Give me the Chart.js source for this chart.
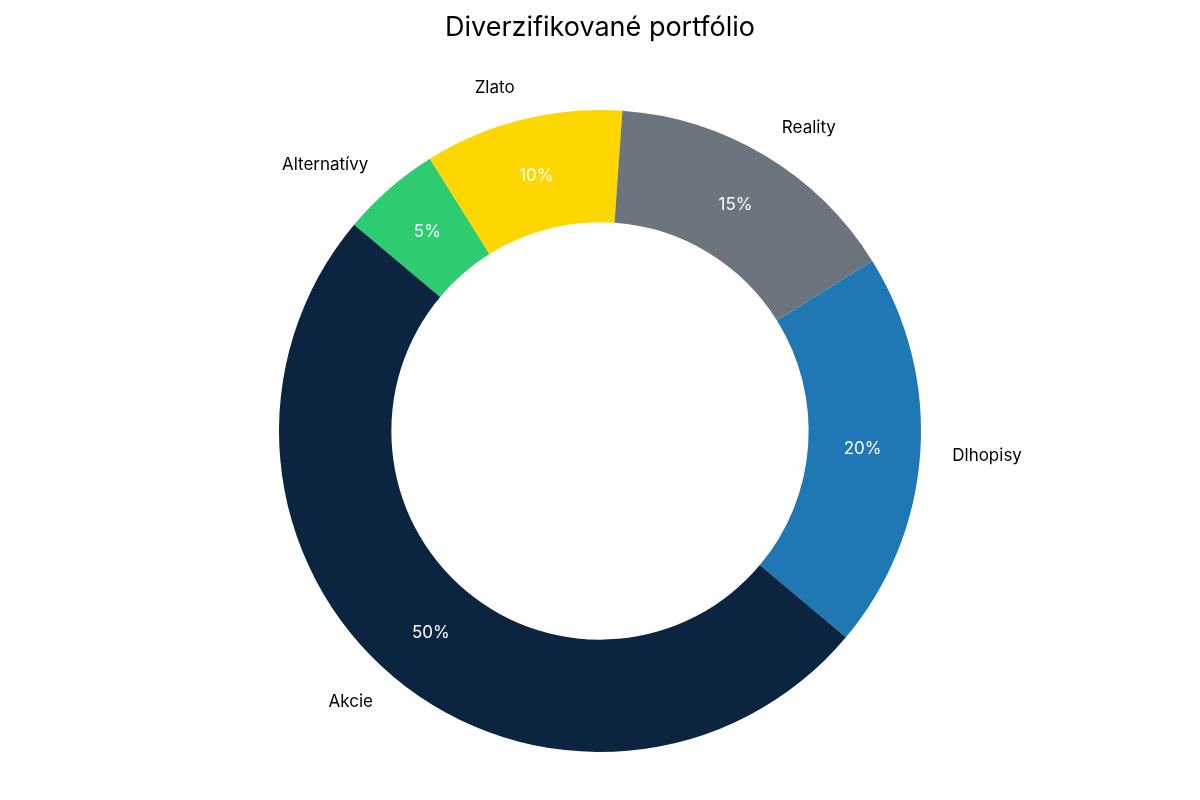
<!DOCTYPE html>
<html>
<head>
<meta charset="utf-8">
<script src="https://cdn.jsdelivr.net/npm/chart.js@4/dist/chart.umd.min.js"></script>
<style>
  html, body { margin: 0; padding: 0; background: #fff; }
  #wrap { width: 1200px; height: 800px; }
</style>
</head>
<body>
<div id="wrap"><canvas id="portfolioChart"></canvas></div>
<script>
// slices in drawing order (clockwise from the upper left)
const categories = ['Alternatívy', 'Zlato', 'Reality', 'Dlhopisy', 'Akcie'];
const shares = [5, 10, 15, 20, 50];
const colors = ['#2ecc71', '#ffd700', '#6c757d', '#1f77b4', '#0b2540'];
const chartTitle = 'Diverzifikované portfólio';

const FONT = 'Inter, "Open Sans", sans-serif';

// draws category names outside and percentages inside each slice
const sliceLabels = {
  id: 'sliceLabels',
  afterDraw(chart) {
    const ctx = chart.ctx;
    const meta = chart.getDatasetMeta(0);
    const total = shares.reduce((a, b) => a + b, 0);
    ctx.save();
    meta.data.forEach((arc, i) => {
      const p = arc.getProps(['x', 'y', 'startAngle', 'endAngle', 'outerRadius'], true);
      const mid = (p.startAngle + p.endAngle) / 2;
      const cos = Math.cos(mid), sin = Math.sin(mid);

      // percentage
      const rp = p.outerRadius * 0.82;
      ctx.font = '17px ' + FONT;
      ctx.fillStyle = '#ffffff';
      ctx.textAlign = 'center';
      ctx.textBaseline = 'middle';
      ctx.fillText(Math.round(shares[i] / total * 100) + '%', p.x + rp * cos, p.y + rp * sin);

      // category name
      const rl = p.outerRadius * 1.1;
      ctx.font = '17px ' + FONT;
      ctx.fillStyle = '#000000';
      ctx.textAlign = cos >= 0 ? 'left' : 'right';
      ctx.fillText(categories[i], p.x + rl * cos, p.y + rl * sin);
    });

    // title
    ctx.font = '27px ' + FONT;
    ctx.fillStyle = '#000000';
    ctx.textAlign = 'center';
    ctx.textBaseline = 'middle';
    ctx.fillText(chartTitle, chart.width / 2, 28);
    ctx.restore();
  }
};

const ctx = document.getElementById('portfolioChart').getContext('2d');
new Chart(ctx, {
  type: 'doughnut',
  data: {
    labels: categories,
    datasets: [{
      data: shares,
      backgroundColor: colors,
      borderWidth: 0
    }]
  },
  options: {
    responsive: true,
    maintainAspectRatio: false,
    animation: false,
    cutout: '65%',
    rotation: -50,
    layout: { padding: { top: 110, bottom: 48 } },
    plugins: {
      legend: { display: false },
      title: { display: false },
      tooltip: { enabled: false }
    }
  },
  plugins: [sliceLabels]
});
</script>
</body>
</html>
